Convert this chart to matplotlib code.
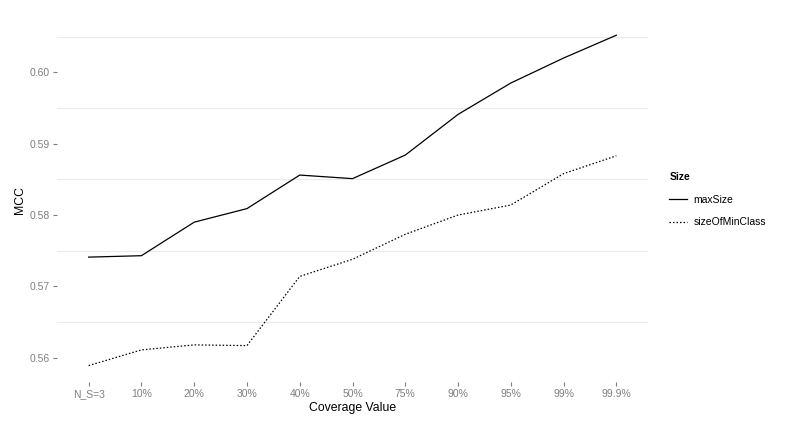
import matplotlib
matplotlib.use('Agg')
import matplotlib.pyplot as plt
from matplotlib.lines import Line2D

# 数据
coverage = ['N_S=3', '10%', '20%', '30%', '40%', '50%', '75%', '90%', '95%', '99%', '99.9%']
max_size = [0.5741, 0.5743, 0.5790, 0.5809, 0.5856, 0.5851, 0.5884, 0.5941, 0.5985, 0.6020, 0.6052]
size_of_min_class = [0.5589, 0.5611, 0.5618, 0.5617, 0.5714, 0.5738, 0.5773, 0.5800, 0.5814, 0.5858, 0.5883]
y_ticks = [0.56, 0.57, 0.58, 0.59, 0.60]
grid_lines = [0.565, 0.575, 0.585, 0.595, 0.605]

plt.rcParams['font.family'] = ['Liberation Sans', 'DejaVu Sans']

W, H = 799, 426
fig = plt.figure(figsize=(W / 100, H / 100), dpi=100)
left, right, top, bottom = 57, 648, 18.8, 382
ax = fig.add_axes([left / W, 1 - bottom / H, (right - left) / W, (bottom - top) / H])

x = list(range(len(coverage)))
for g in grid_lines:
    ax.axhline(g, color='#ebebeb', linewidth=0.8, zorder=0)

dotted = (0, (1.2, 1.6))
ax.plot(x, max_size, color='black', linewidth=0.9, linestyle='-', label='maxSize')
ax.plot(x, size_of_min_class, color='black', linewidth=0.9, linestyle=dotted, label='sizeOfMinClass')

ax.set_xlim(-0.6, len(coverage) - 1 + 0.6)
ax.set_ylim(0.5566, 0.6075)
ax.set_xticks(x)
ax.set_xticklabels(coverage)
ax.set_yticks(y_ticks)
ax.set_yticklabels([f'{v:.2f}' for v in y_ticks])

for s in ax.spines.values():
    s.set_visible(False)
ax.tick_params(axis='both', colors='#7f7f7f', labelsize=7.5, length=3, width=0.8, pad=2)

ax.set_xlabel('Coverage Value', fontsize=8.8, color='black', labelpad=2)
ax.set_ylabel('MCC', fontsize=8.8, color='black', labelpad=3)

handles = [Line2D([], [], color='black', linewidth=0.9, linestyle='-'),
           Line2D([], [], color='black', linewidth=0.9, linestyle=dotted)]
leg = fig.legend(handles, ['maxSize', 'sizeOfMinClass'], title='Size',
                 loc='upper left', bbox_to_anchor=(660 / W, 1 - 163 / H),
                 frameon=False, fontsize=7.5, title_fontsize=7.5,
                 handlelength=1.7, handletextpad=0.6, labelspacing=1.2)
leg.get_title().set_fontweight('bold')
leg._legend_box.align = 'left'

fig.savefig('out.png', dpi=100)
